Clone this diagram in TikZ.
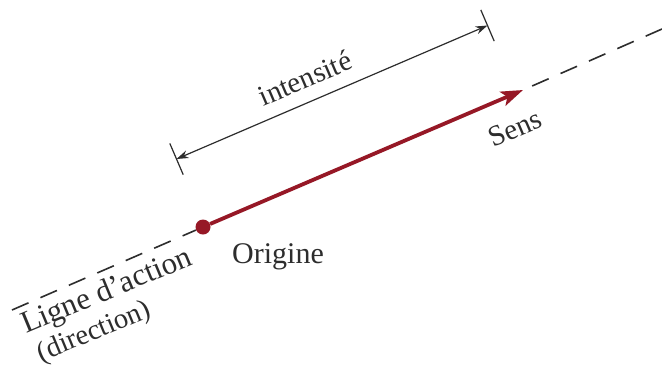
\documentclass[tikz,border=0pt]{standalone}
\usepackage{fontspec}
\setmainfont{Liberation Serif}
\usetikzlibrary{arrows.meta,calc}
\definecolor{vecred}{RGB}{150,24,38}
\definecolor{ink}{RGB}{45,45,45}
\begin{document}
\begin{tikzpicture}[x=1pt,y=-1pt,
 lbl/.style={text=ink,font=\fontsize{29}{33}\selectfont,inner sep=0pt},
 actionline/.style={draw=ink,line width=1.6pt,dash pattern=on 18pt off 13pt},
 vec/.style={draw=vecred,line width=3.8pt,-{Stealth[length=22pt,width=15pt,inset=5pt]}},
 dimline/.style={draw=ink,line width=1.2pt,{Stealth[length=12pt,width=8pt]}-{Stealth[length=12pt,width=8pt]}},
 tickline/.style={draw=ink,line width=1.2pt}]
\useasboundingbox (0,0) rectangle (662,368);
\fill[white] (0,0) rectangle (662,368);
\coordinate (L) at (12,310);
\coordinate (R) at (662,29);
\coordinate (T) at (523,90);
\coordinate (T2) at ($(T)!10pt!(R)$);
\node[circle,fill=vecred,minimum size=15pt,inner sep=0pt] (O) at (203,227) {};
\draw[actionline] (L) -- (O);
\draw[actionline] (T2) -- (R);
\draw[vec] (O) -- (T);
\coordinate (DA) at (176.5,159);
\coordinate (DB) at (487.5,25.5);
\draw[dimline] (DA) -- (DB);
\draw[tickline] ($(DA)!17pt!90:(DB)$) -- ($(DA)!17pt!-90:(DB)$);
\draw[tickline] ($(DB)!17pt!90:(DA)$) -- ($(DB)!17pt!-90:(DA)$);
\node[lbl,rotate=23.2] (int) at (305,78) {intensité};
\node[lbl,rotate=23.3] (sens) at (515,128) {Sens};
\node[lbl,font=\fontsize{30}{33}\selectfont,anchor=base] (orig) at (278,263) {Origine};
\node[lbl,font=\fontsize{31}{34}\selectfont,rotate=22.5,anchor=base] (ligne) at (110,299) {Ligne d’action};
\node[lbl,font=\fontsize{28.5}{33}\selectfont,rotate=22.5,anchor=base] (direc) at (97,339) {(direction)};
\end{tikzpicture}
\end{document}
